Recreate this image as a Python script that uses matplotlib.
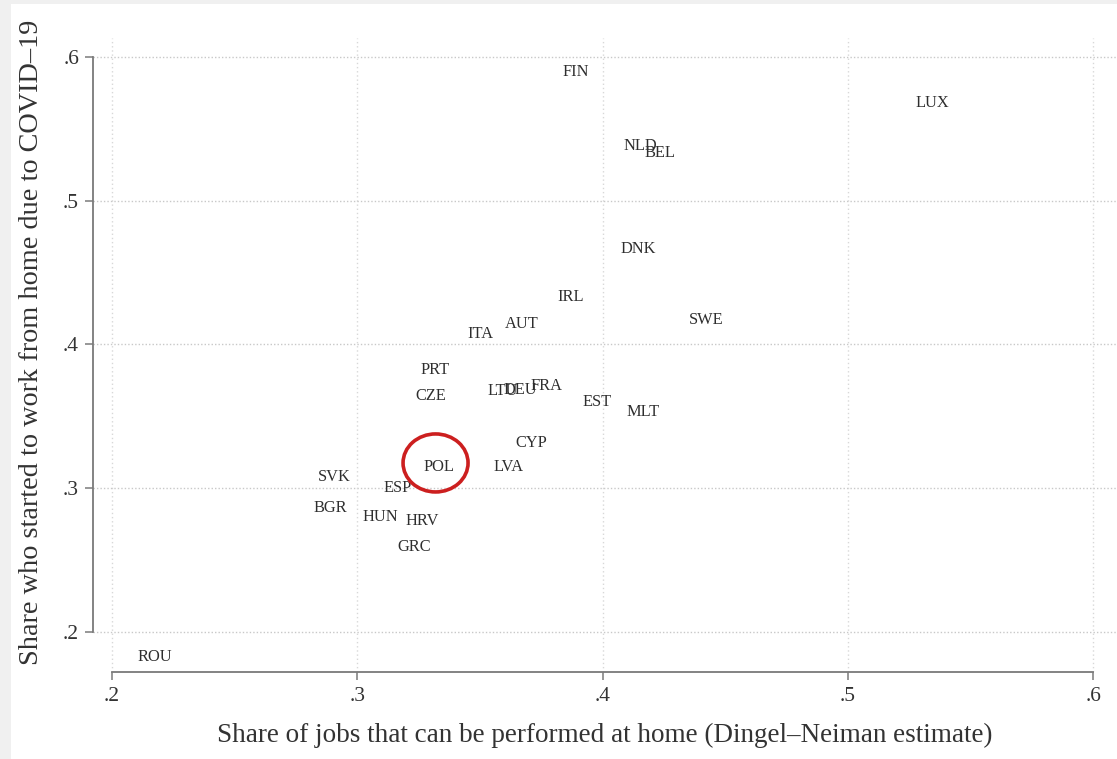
import matplotlib
matplotlib.use("Agg")
import matplotlib.pyplot as plt
from matplotlib.patches import Ellipse, Rectangle

# Data
countries = ["FIN", "LUX", "NLD", "BEL", "DNK", "IRL", "SWE", "AUT", "ITA", "PRT",
             "CZE", "LTU", "DEU", "FRA", "EST", "MLT", "CYP", "POL", "LVA", "SVK",
             "ESP", "BGR", "HUN", "HRV", "GRC", "ROU"]
home_jobs = [0.3892, 0.5343, 0.4152, 0.4234, 0.4144, 0.3871, 0.4422, 0.3671, 0.3500, 0.3317,
             0.3300, 0.3594, 0.3663, 0.3773, 0.3977, 0.4165, 0.3708, 0.3333, 0.3618, 0.2905,
             0.3166, 0.2889, 0.3093, 0.3264, 0.3231, 0.2175]
wfh_share = [0.5896, 0.5680, 0.5381, 0.5332, 0.4664, 0.4330, 0.4170, 0.4143, 0.4073, 0.3823,
             0.3642, 0.3676, 0.3683, 0.3711, 0.3600, 0.3530, 0.3315, 0.3148, 0.3148, 0.3078,
             0.3002, 0.2863, 0.2800, 0.2772, 0.2591, 0.1826]
ticks = [0.2, 0.3, 0.4, 0.5, 0.6]
tick_labels = [".2", ".3", ".4", ".5", ".6"]
highlight = "POL"

W, H = 1117, 759
fig = plt.figure(figsize=(W / 100, H / 100), dpi=100)
fig.patch.set_facecolor("#f0f0f0")
fig.patches.append(Rectangle((11 / W, 0), 1 - 11 / W, 1 - 4 / H, transform=fig.transFigure,
                             facecolor="white", edgecolor="none", zorder=-10))

serif = ["Liberation Serif", "DejaVu Serif"]
plt.rcParams["font.family"] = serif

ax_left, ax_right = 93, 1117
ax_top, ax_bottom = 38, 672
ax = fig.add_axes([ax_left / W, 1 - ax_bottom / H, (ax_right - ax_left) / W, (ax_bottom - ax_top) / H])
ax.set_facecolor("none")
ax.set_zorder(5)

px_x = 2453.0  # pixels per unit x
px_y = 1437.5  # pixels per unit y
ax.set_xlim(0.2 - (112 - ax_left) / px_x, 0.2 + (ax_right - 112) / px_x)
ax.set_ylim(0.2 - (ax_bottom - 632) / px_y, 0.2 + (632 - ax_top) / px_y)

# grid
for t in ticks:
    ax.axhline(t, color="#c8c8c8", lw=1.0, ls=(0, (1, 1.5)), zorder=1)
    ax.axvline(t, color="#d8d8d8", lw=1.0, ls=(0, (1, 2)), zorder=1)

for name, x, y in zip(countries, home_jobs, wfh_share):
    ax.text(x, y, name, ha="center", va="center", fontsize=11.8, color="#2e2e2e",
            family=serif, zorder=3)

hi = countries.index(highlight)
ax.add_patch(Ellipse((home_jobs[hi] - 0.0014, wfh_share[hi] + 0.0028), width=65 / px_x, height=58 / px_y,
                     fill=False, edgecolor="#cc1f1f", lw=2.6, zorder=4))

for s in ["top", "right"]:
    ax.spines[s].set_visible(False)
for s in ["left", "bottom"]:
    ax.spines[s].set_color("#7a7a7a")
    ax.spines[s].set_linewidth(1.3)
    ax.spines[s].set_bounds(0.2, 0.6)

ax.set_xticks(ticks)
ax.set_xticklabels(tick_labels)
ax.set_yticks(ticks)
ax.set_yticklabels(tick_labels)
ax.tick_params(axis="both", direction="out", length=6, width=1.1, color="#7a7a7a",
               labelsize=15.5, labelcolor="#333333")
ax.tick_params(axis="x", pad=5)
ax.tick_params(axis="y", pad=4)

ax.set_xlabel("Share of jobs that can be performed at home (Dingel–Neiman estimate)",
              fontsize=19.5, color="#333333", labelpad=12)
ax.set_ylabel("Share who started to work from home due to COVID–19",
              fontsize=20.3, color="#333333")
ax.yaxis.set_label_coords((44 - ax_left) / (ax_right - ax_left), (ax_bottom - 342) / (ax_bottom - ax_top))

fig.savefig("out.png", dpi=100, facecolor=fig.get_facecolor())
